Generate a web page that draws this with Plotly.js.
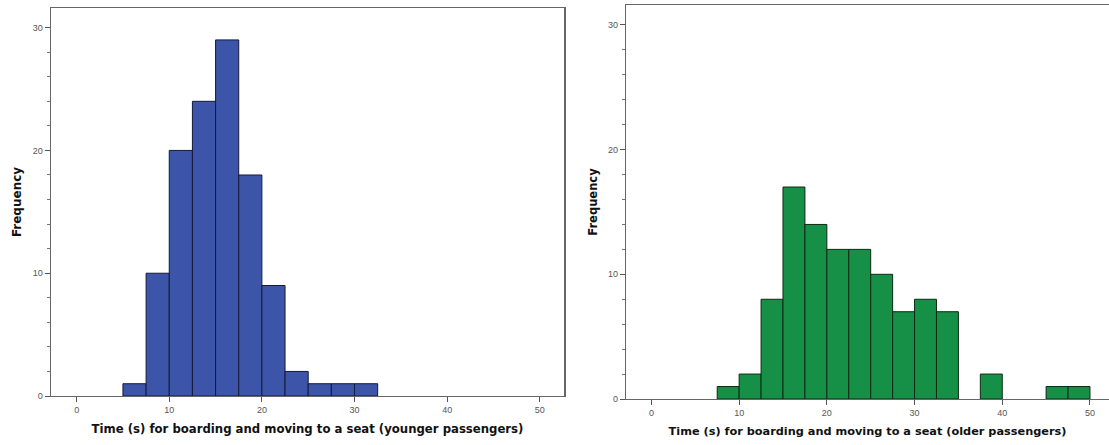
<!DOCTYPE html>
<html>
<head>
<meta charset="utf-8">
<script src="https://cdn.plot.ly/plotly-3.0.1.min.js"></script>
<style>html,body{margin:0;padding:0;background:#fff;}#chart{width:1109px;height:445px;}</style>
</head>
<body>
<div id="chart"></div>
<script>
// Histogram bins (bin width 2.5 s)
var binWidth = 2.5;
var youngerBinCenters = [6.25, 8.75, 11.25, 13.75, 16.25, 18.75, 21.25, 23.75, 26.25, 28.75, 31.25];
var youngerCounts     = [1, 10, 20, 24, 29, 18, 9, 2, 1, 1, 1];
var olderBinCenters   = [8.75, 11.25, 13.75, 16.25, 18.75, 21.25, 23.75, 26.25, 28.75, 31.25, 33.75, 38.75, 46.25, 48.75];
var olderCounts       = [1, 2, 8, 17, 14, 12, 12, 10, 7, 8, 7, 2, 1, 1];
var xTickVals = [0, 10, 20, 30, 40, 50];
var yTickVals = [0, 10, 20, 30];
var xTitleLeft  = 'Time (s) for boarding and moving to a seat (younger passengers)';
var xTitleRight = 'Time (s) for boarding and moving to a seat (older passengers)';
var yTitle = 'Frequency';

var W = 1109, H = 445;
function px(x){ return x / W; }
function py(y){ return 1 - y / H; }

var tickFont = {family: 'Liberation Sans, Arial, sans-serif', size: 9, color: '#555'};
function titleFont(s){ return {family: 'DejaVu Sans, Verdana, sans-serif', size: s, color: '#111', weight: 'bold'}; }

var traces = [
  {type: 'bar', x: youngerBinCenters, y: youngerCounts, width: binWidth,
   marker: {color: '#3c55a8', line: {color: '#121a3a', width: 1}},
   xaxis: 'x', yaxis: 'y', hoverinfo: 'x+y'},
  {type: 'bar', x: olderBinCenters, y: olderCounts, width: binWidth,
   marker: {color: '#168f47', line: {color: '#0b2a14', width: 1}},
   xaxis: 'x2', yaxis: 'y2', hoverinfo: 'x+y'}
];

function xAxis(domain, range, title, fs, standoff, anchor){
  return {domain: domain, range: range, anchor: anchor, tickvals: xTickVals,
    ticks: 'outside', ticklen: 5, tickcolor: '#555', tickwidth: 1,
    showline: true, linecolor: '#666', linewidth: 1.2, mirror: true,
    showgrid: false, zeroline: false, tickfont: tickFont,
    title: {text: title, font: titleFont(fs), standoff: standoff}, automargin: false, fixedrange: true};
}
function yAxis(domain, range, fs, standoff, anchor){
  return {domain: domain, range: range, anchor: anchor, tickvals: yTickVals,
    ticks: 'outside', ticklen: 5, tickcolor: '#555', tickwidth: 1,
    minor: {dtick: 2, ticks: 'outside', ticklen: 3, tickcolor: '#777', tickwidth: 1, showgrid: false},
    showline: true, linecolor: '#666', linewidth: 1.2, mirror: true,
    showgrid: false, zeroline: false, tickfont: tickFont,
    title: {text: yTitle, font: titleFont(fs), standoff: standoff}, automargin: false, fixedrange: true};
}

var layout = {
  width: W, height: H,
  margin: {l: 0, r: 0, t: 0, b: 0},
  paper_bgcolor: '#fff', plot_bgcolor: '#fff',
  showlegend: false, bargap: 0,
  xaxis:  xAxis([px(50.7), px(564.3)], [-2.8, 52.65], xTitleLeft, 11.7, 10, 'y'),
  yaxis:  yAxis([py(396), py(8)], [0, 31.6], 12, 8, 'x'),
  xaxis2: xAxis([px(626), 1], [-2.9, 52.17], xTitleRight, 11.3, 10, 'y2'),
  yaxis2: yAxis([py(399), py(5)], [0, 31.6], 11.5, 8, 'x2')
};

Plotly.newPlot('chart', traces, layout, {displayModeBar: false, staticPlot: true});
</script>
</body>
</html>
